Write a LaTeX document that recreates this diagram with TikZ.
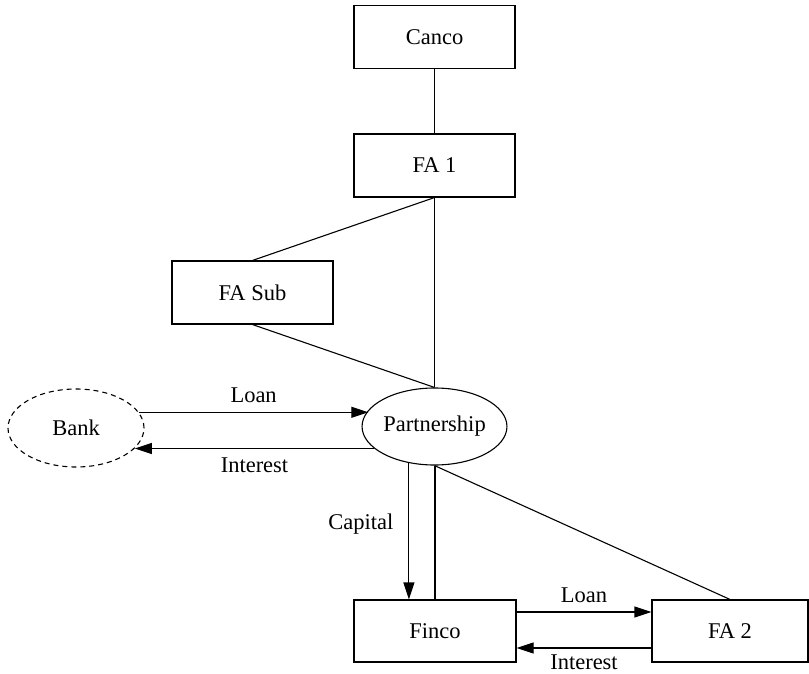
\documentclass[tikz,border=0pt]{standalone}
\usepackage{fontspec}
\setmainfont{Liberation Serif}
\usetikzlibrary{arrows.meta,shapes.geometric}
\begin{document}
\begin{tikzpicture}[x=1pt,y=-1pt,
  font=\fontsize{22.5}{27}\selectfont,
  line width=1.1pt,
  entity/.style={draw,rectangle,minimum width=161pt,minimum height=63pt,inner sep=0pt},
  oval/.style={draw,ellipse,minimum width=134pt,minimum height=77pt,inner sep=0pt},
  flow/.style={-{Triangle[length=17pt,width=11pt]}},
  lab/.style={inner sep=9pt}]
\useasboundingbox (0,0) rectangle (809,674);
\node[entity] (canco) at (434.5,37) {Canco};
\node[entity] (fa1) at (434.5,165.5) {FA 1};
\node[entity] (fasub) at (252.5,292.5) {FA Sub};
\node[oval] (part) at (434.5,426.5) {Partnership};
\node[oval,minimum width=136pt,minimum height=78pt,dash pattern=on 5pt off 4pt] (bank) at (76,428) {Bank};
\node[entity,minimum width=162pt,minimum height=62pt] (finco) at (435,631) {Finco};
\node[entity,minimum width=156pt,minimum height=62pt] (fa2) at (730,631) {FA 2};

\draw (canco.south) -- (fa1.north);
\draw (fa1.south) -- (fa1.south |- part.north);
\draw (fasub.north) -- (fa1.south);
\draw (fasub.south) -- (part.north);

\draw[flow] (bank.14) -- (bank.14 -| part.166) node[midway,above,lab] {Loan};
\draw[flow] (part.200) -- (part.200 -| bank.341) node[midway,below,lab] {Interest};

\draw[flow] (part.235) -- (part.235 |- finco.north) node[pos=0.45,left,inner sep=15pt] {Capital};
\draw (finco.north) -- (finco.north |- part.south);
\draw (part.south) -- (fa2.north);

\draw[flow] ([yshift=19pt]finco.east) -- ([yshift=19pt]finco.east -| fa2.west) node[midway,above,lab] {Loan};
\draw[flow] ([yshift=-17pt]fa2.west) -- ([yshift=-17pt]fa2.west -| finco.east) node[midway,below,inner sep=6pt] {Interest};
\end{tikzpicture}
\end{document}
